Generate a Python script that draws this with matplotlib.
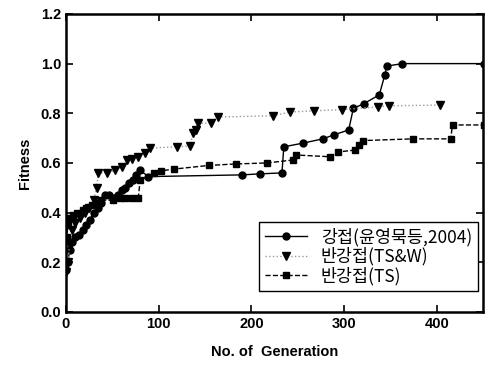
import matplotlib
matplotlib.use("Agg")
import matplotlib.pyplot as plt
from matplotlib.ticker import FormatStrFormatter

plt.rcParams['font.family'] = ['Liberation Sans', 'Noto Sans CJK KR', 'DejaVu Sans']

# 강접(윤영묵등,2004)
gen_rigid = [0, 2, 4, 6, 10, 14, 18, 22, 26, 30, 34, 38, 42, 46, 52, 56, 60, 64, 68, 72, 76, 80,
             89, 190, 209, 233, 235, 256, 277, 289, 305, 310, 321, 338, 344, 346, 363, 451]
fit_rigid = [0.17, 0.20, 0.25, 0.28, 0.30, 0.31, 0.33, 0.35, 0.37, 0.40, 0.42, 0.44, 0.47, 0.47,
             0.46, 0.47, 0.49, 0.50, 0.52, 0.53, 0.55, 0.57,
             0.545, 0.552, 0.556, 0.56, 0.665, 0.68, 0.697, 0.713, 0.733, 0.82, 0.838, 0.874,
             0.955, 0.99, 1.0, 1.0]

# 반강접(TS&W)
gen_tsw = [0, 2, 4, 6, 10, 15, 20, 25, 30, 33, 35, 44, 53, 60, 66, 71, 78, 85, 91,
           120, 134, 137, 140, 142, 156, 164, 223, 242, 268, 298, 337, 348, 403]
fit_tsw = [0.16, 0.20, 0.27, 0.33, 0.36, 0.38, 0.40, 0.42, 0.45, 0.50, 0.56, 0.56, 0.57, 0.585,
           0.61, 0.615, 0.625, 0.64, 0.66, 0.665, 0.668, 0.72, 0.733, 0.76, 0.76, 0.785,
           0.79, 0.805, 0.81, 0.815, 0.826, 0.83, 0.833]

# 반강접(TS)
gen_ts = [0, 1, 2, 4, 8, 12, 18, 22, 28, 32, 38, 51, 58, 64, 71, 78, 80, 95, 102, 116, 154, 183,
          217, 245, 248, 285, 293, 312, 316, 320, 374, 415, 417, 451]
fit_ts = [0.20, 0.30, 0.35, 0.38, 0.39, 0.40, 0.41, 0.42, 0.43, 0.44, 0.45, 0.45, 0.46, 0.46,
          0.46, 0.46, 0.53, 0.56, 0.568, 0.575, 0.59, 0.596, 0.60, 0.612, 0.632, 0.625, 0.644,
          0.652, 0.672, 0.69, 0.697, 0.697, 0.753, 0.753]

fig = plt.figure(figsize=(4.87, 3.67), dpi=100)
ax = fig.add_axes([0.1355, 0.15, 0.8565, 0.812])

ax.plot(gen_rigid, fit_rigid, '-', color='black', lw=1.0, marker='o', ms=5,
        label='강접(윤영묵등,2004)')
ax.plot(gen_tsw, fit_tsw, ':', color='#999999', lw=1.0, marker='v', ms=6,
        mfc='black', mec='black', label='반강접(TS&W)')
ax.plot(gen_ts, fit_ts, '--', color='black', lw=1.0, marker='s', ms=4.5,
        label='반강접(TS)')

ax.set_xlim(0, 450)
ax.set_ylim(0, 1.2)
ax.set_xticks([0, 100, 200, 300, 400])
ax.set_yticks([0.0, 0.2, 0.4, 0.6, 0.8, 1.0, 1.2])
ax.yaxis.set_major_formatter(FormatStrFormatter('%.1f'))
ax.tick_params(direction='in', top=True, right=True, length=5, width=1.2, labelsize=10.5)
for lab in ax.get_xticklabels() + ax.get_yticklabels():
    lab.set_fontweight('bold')
for sp in ax.spines.values():
    sp.set_linewidth(1.8)

ax.set_xlabel('No. of  Generation', fontsize=10.5, fontweight='bold', labelpad=10)
ax.set_ylabel('Fitness', fontsize=10.5, fontweight='bold', labelpad=6)

leg = ax.legend(loc='lower right', bbox_to_anchor=(0.988, 0.07), fancybox=False,
                edgecolor='black', framealpha=1, handlelength=2.4,
                borderpad=0.35, labelspacing=0.05, handletextpad=0.8, borderaxespad=0,
                prop={'family': ['Noto Sans CJK KR', 'DejaVu Sans'], 'size': 12.5,
                      'weight': 'medium'})
leg.get_frame().set_linewidth(1.0)

fig.savefig('out.png', dpi=100)
